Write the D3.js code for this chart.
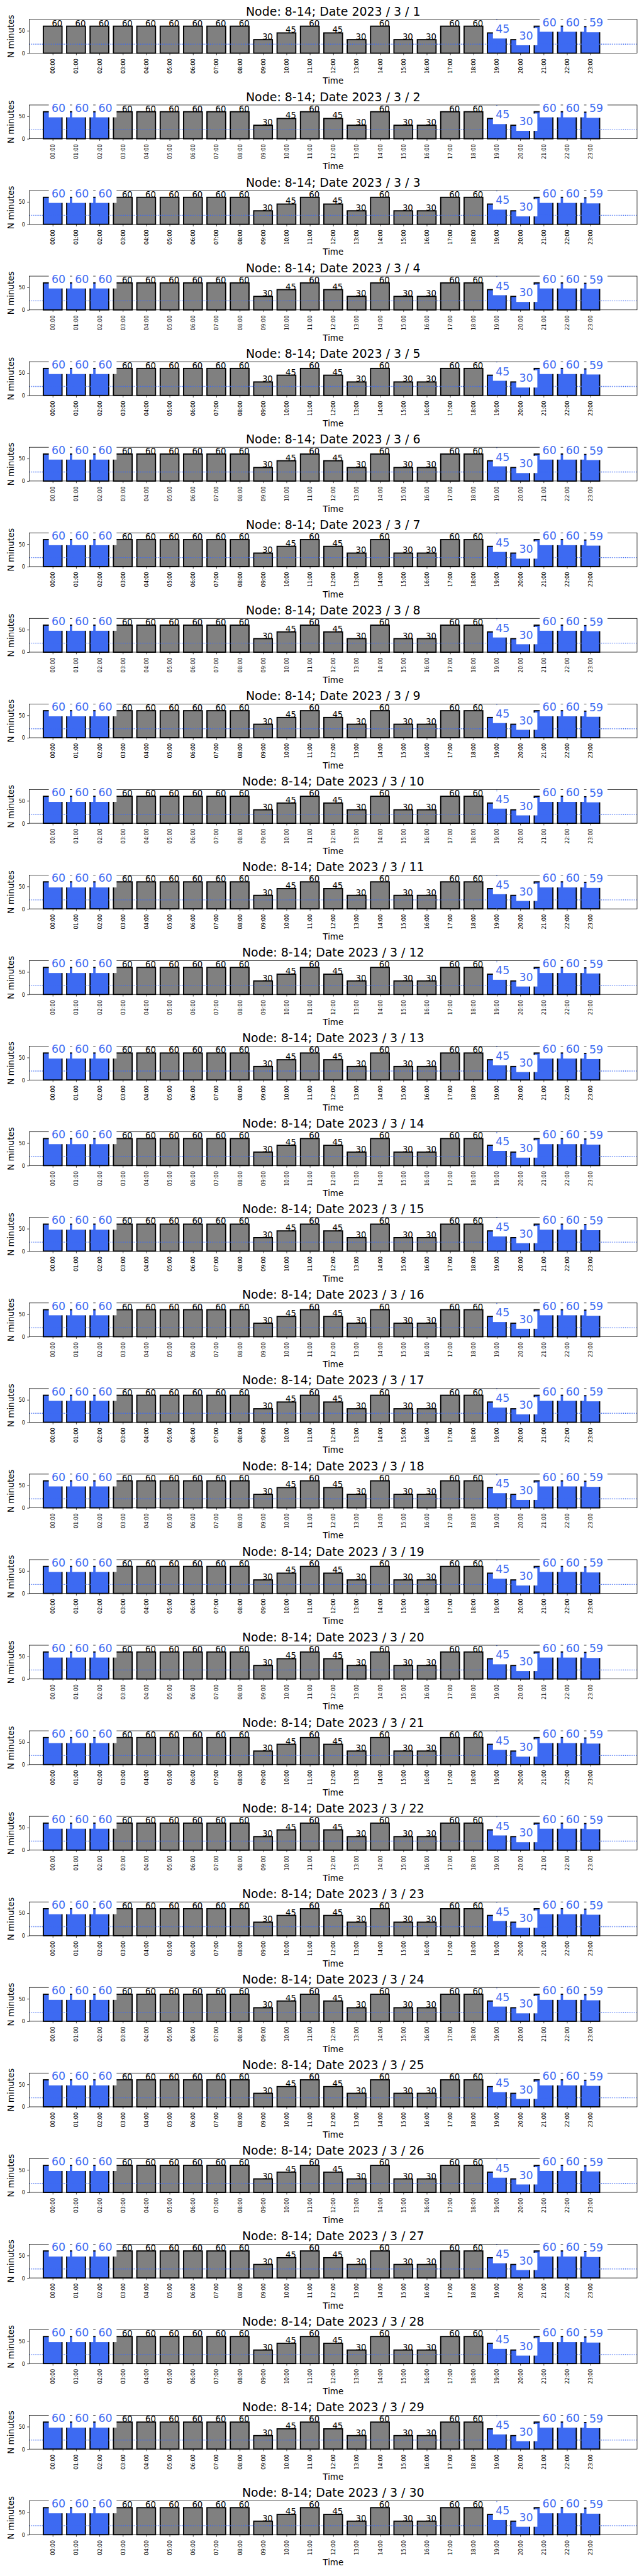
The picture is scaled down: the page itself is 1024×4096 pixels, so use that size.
<!DOCTYPE html>
<html>
<head>
<meta charset="utf-8">
<script src="https://cdn.jsdelivr.net/npm/d3@7"></script>
<style>
  html, body { margin: 0; padding: 0; background: #fff; }
  svg { display: block; }
  text { font-family: "DejaVu Sans", sans-serif; }
</style>
</head>
<body>
<div id="chart"></div>
<script>
// ---------------- DATA ----------------
const hours = ["00:00","01:00","02:00","03:00","04:00","05:00","06:00","07:00","08:00","09:00","10:00","11:00",
               "12:00","13:00","14:00","15:00","16:00","17:00","18:00","19:00","20:00","21:00","22:00","23:00"];
const node = "8-14";
const days = d3.range(1, 31);            // 2023 / 3 / 1 .. 30
const yTicks = [0, 50];
const thresholdMinutes = 20;             // horizontal dotted line
const markerHour = 19;                   // vertical dotted line

// minutes per hour, one list per day
const minutesByDay = [
  [60,60,60,60,60,60,60,60,60,30,45,60,45,30,60,30,30,60,60,45,30,60,60,59],
  [60,60,60,60,60,60,60,60,60,30,45,60,45,30,60,30,30,60,60,45,30,60,60,59],
  [60,60,60,60,60,60,60,60,60,30,45,60,45,30,60,30,30,60,60,45,30,60,60,59],
  [60,60,60,60,60,60,60,60,60,30,45,60,45,30,60,30,30,60,60,45,30,60,60,59],
  [60,60,60,60,60,60,60,60,60,30,45,60,45,30,60,30,30,60,60,45,30,60,60,59],
  [60,60,60,60,60,60,60,60,60,30,45,60,45,30,60,30,30,60,60,45,30,60,60,59],
  [60,60,60,60,60,60,60,60,60,30,45,60,45,30,60,30,30,60,60,45,30,60,60,59],
  [60,60,60,60,60,60,60,60,60,30,45,60,45,30,60,30,30,60,60,45,30,60,60,59],
  [60,60,60,60,60,60,60,60,60,30,45,60,45,30,60,30,30,60,60,45,30,60,60,59],
  [60,60,60,60,60,60,60,60,60,30,45,60,45,30,60,30,30,60,60,45,30,60,60,59],
  [60,60,60,60,60,60,60,60,60,30,45,60,45,30,60,30,30,60,60,45,30,60,60,59],
  [60,60,60,60,60,60,60,60,60,30,45,60,45,30,60,30,30,60,60,45,30,60,60,59],
  [60,60,60,60,60,60,60,60,60,30,45,60,45,30,60,30,30,60,60,45,30,60,60,59],
  [60,60,60,60,60,60,60,60,60,30,45,60,45,30,60,30,30,60,60,45,30,60,60,59],
  [60,60,60,60,60,60,60,60,60,30,45,60,45,30,60,30,30,60,60,45,30,60,60,59],
  [60,60,60,60,60,60,60,60,60,30,45,60,45,30,60,30,30,60,60,45,30,60,60,59],
  [60,60,60,60,60,60,60,60,60,30,45,60,45,30,60,30,30,60,60,45,30,60,60,59],
  [60,60,60,60,60,60,60,60,60,30,45,60,45,30,60,30,30,60,60,45,30,60,60,59],
  [60,60,60,60,60,60,60,60,60,30,45,60,45,30,60,30,30,60,60,45,30,60,60,59],
  [60,60,60,60,60,60,60,60,60,30,45,60,45,30,60,30,30,60,60,45,30,60,60,59],
  [60,60,60,60,60,60,60,60,60,30,45,60,45,30,60,30,30,60,60,45,30,60,60,59],
  [60,60,60,60,60,60,60,60,60,30,45,60,45,30,60,30,30,60,60,45,30,60,60,59],
  [60,60,60,60,60,60,60,60,60,30,45,60,45,30,60,30,30,60,60,45,30,60,60,59],
  [60,60,60,60,60,60,60,60,60,30,45,60,45,30,60,30,30,60,60,45,30,60,60,59],
  [60,60,60,60,60,60,60,60,60,30,45,60,45,30,60,30,30,60,60,45,30,60,60,59],
  [60,60,60,60,60,60,60,60,60,30,45,60,45,30,60,30,30,60,60,45,30,60,60,59],
  [60,60,60,60,60,60,60,60,60,30,45,60,45,30,60,30,30,60,60,45,30,60,60,59],
  [60,60,60,60,60,60,60,60,60,30,45,60,45,30,60,30,30,60,60,45,30,60,60,59],
  [60,60,60,60,60,60,60,60,60,30,45,60,45,30,60,30,30,60,60,45,30,60,60,59],
  [60,60,60,60,60,60,60,60,60,30,45,60,45,30,60,30,30,60,60,45,30,60,60,59]
];
// highlighted (blue) hours: first day vs the following days
const highlightFirstDay = [19,20,21,22,23];
const highlightOtherDays = [0,1,2,19,20,21,22,23];

// ---------------- LAYOUT ----------------
const S = 0.682;
const W = 1024, H = 4096;
const BLUE = "#3d6af2", GREY = "#808080";
const axLeft = 68.3 * S, axRight = 1485.3 * S;
const axTop0 = 45.3 * S, panelStep = 199.5 * S, axH = 78.7 * S;

const svg = d3.select("#chart").append("svg")
  .attr("width", W).attr("height", H)
  .attr("viewBox", `0 0 ${W} ${H}`);
svg.append("rect").attr("width", W).attr("height", H).attr("fill", "#fff");

const x = d3.scaleLinear().domain([-1, 25]).range([axLeft, axRight]);
const unit = x(1) - x(0);

days.forEach((day, di) => {
  const vals = minutesByDay[di];
  const hl = new Set(di === 0 ? highlightFirstDay : highlightOtherDays);
  const top = axTop0 + di * panelStep, bottom = top + axH;
  const y = d3.scaleLinear().domain([0, 75]).range([bottom, top]);
  const g = svg.append("g");
  const cx = (axLeft + axRight) / 2, cy = (top + bottom) / 2;

  // bars
  g.selectAll("rect.bar").data(vals).join("rect")
    .attr("class", "bar")
    .attr("x", (v, i) => x(i - 0.4))
    .attr("width", 0.8 * unit)
    .attr("y", v => y(v))
    .attr("height", v => y(0) - y(v))
    .attr("fill", (v, i) => hl.has(i) ? BLUE : GREY)
    .attr("stroke", "#000")
    .attr("stroke-width", 2.7 * S);

  // dotted reference lines
  const dash = `${1.8 * S},${2.5 * S}`;
  g.append("line")
    .attr("x1", axLeft).attr("x2", axRight)
    .attr("y1", y(thresholdMinutes)).attr("y2", y(thresholdMinutes))
    .attr("stroke", BLUE).attr("stroke-width", 2 * S).attr("stroke-dasharray", dash);
  g.append("line")
    .attr("x1", x(markerHour)).attr("x2", x(markerHour))
    .attr("y1", top).attr("y2", bottom)
    .attr("stroke", BLUE).attr("stroke-width", 2 * S).attr("stroke-dasharray", dash);

  // axes
  const xAxis = d3.axisBottom(x).tickValues(d3.range(24)).tickFormat(i => hours[i])
    .tickSize(4.9 * S).tickSizeOuter(0).tickPadding(0);
  const gx = g.append("g").attr("transform", `translate(0,${bottom})`).call(xAxis);
  gx.select(".domain").remove();
  gx.selectAll(".tick line").attr("stroke", "#000").attr("stroke-width", 1.1 * S);
  gx.selectAll(".tick text")
    .attr("transform", "rotate(-90)")
    .attr("x", -12.7 * S).attr("y", 0).attr("dy", "0.36em")
    .attr("text-anchor", "end")
    .attr("font-family", "DejaVu Sans")
    .attr("font-size", 12.1 * S).attr("fill", "#000");

  const yAxis = d3.axisLeft(y).tickValues(yTicks).tickSize(4.9 * S).tickSizeOuter(0).tickPadding(4.9 * S);
  const gy = g.append("g").attr("transform", `translate(${axLeft},0)`).call(yAxis);
  gy.select(".domain").remove();
  gy.selectAll(".tick line").attr("stroke", "#000").attr("stroke-width", 1.1 * S);
  gy.selectAll(".tick text")
    .attr("font-family", "DejaVu Sans")
    .attr("font-size", 11.8 * S).attr("fill", "#000").attr("dy", "0.36em");

  // frame (spines)
  g.append("rect")
    .attr("x", axLeft).attr("y", top).attr("width", axRight - axLeft).attr("height", axH)
    .attr("fill", "none").attr("stroke", "#000").attr("stroke-width", 1.1 * S);

  // value labels
  vals.forEach((v, i) => {
    if (hl.has(i)) {
      g.append("rect")
        .attr("x", x(i) - 9 * S).attr("y", y(v) - 27.3 * S)
        .attr("width", 49 * S).attr("height", 40.3 * S)
        .attr("fill", "#fff");
      g.append("text")
        .attr("x", x(i) - 2.5 * S).attr("y", y(v))
        .attr("text-anchor", "start")
        .attr("font-size", 25.5 * S).attr("fill", BLUE)
        .text(v);
    } else {
      g.append("text")
        .attr("x", x(i + 0.4) + 1 * S).attr("y", y(v))
        .attr("text-anchor", "end")
        .attr("font-size", 19.5 * S).attr("fill", "#000")
        .text(v);
    }
  });

  // titles / labels
  g.append("text").attr("x", cx).attr("y", top - 9.3 * S)
    .attr("text-anchor", "middle").attr("font-size", 27.8 * S).attr("fill", "#000")
    .text(`Node: ${node}; Date 2023 / 3 / ${day}`);
  g.append("text").attr("x", cx).attr("y", bottom + 71.5 * S)
    .attr("text-anchor", "middle").attr("font-size", 19.7 * S).attr("fill", "#000")
    .text("Time");
  g.append("text")
    .attr("transform", `translate(${31.7 * S},${cy}) rotate(-90)`)
    .attr("text-anchor", "middle").attr("font-size", 19.7 * S).attr("fill", "#000")
    .text("N minutes");
});
</script>
</body>
</html>
